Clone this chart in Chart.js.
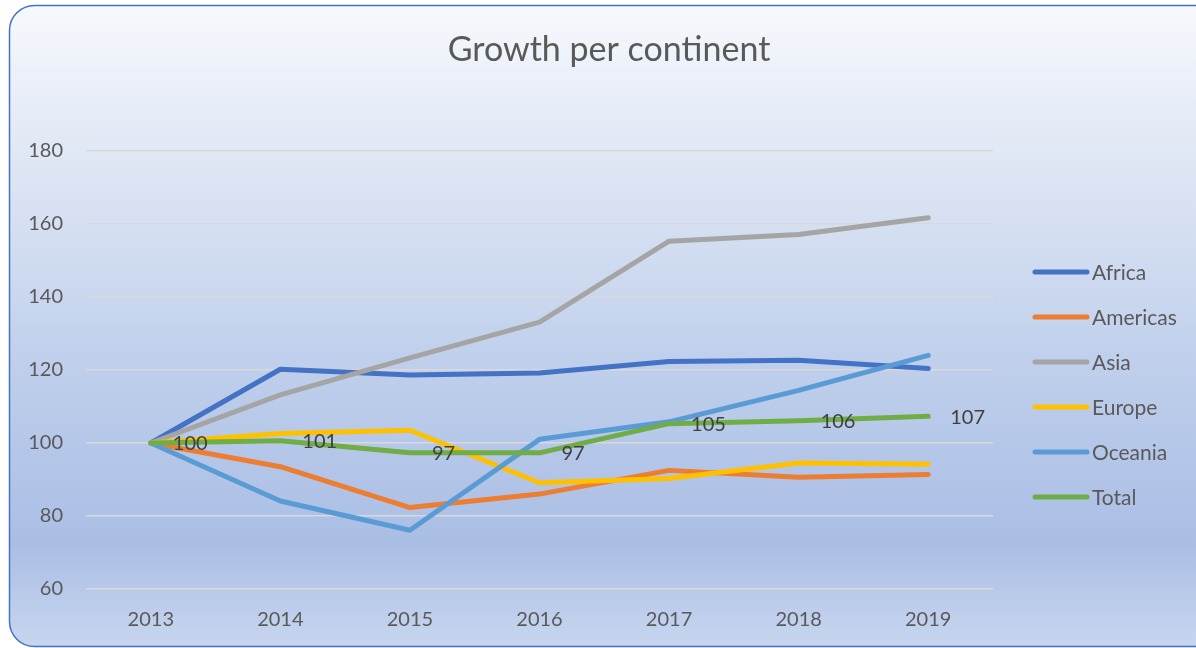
<!DOCTYPE html>
<html>
<head>
<meta charset="utf-8">
<script src="https://cdn.jsdelivr.net/npm/chart.js@4/dist/chart.umd.min.js"></script>
<style>
  html, body { margin: 0; padding: 0; background: #ffffff; }
  #wrap { width: 1196px; height: 648px; position: relative; }
</style>
</head>
<body>
<div id="wrap"><canvas id="myChart" width="1196" height="648"></canvas></div>
<script>
// chart data
let years = ['2013', '2014', '2015', '2016', '2017', '2018', '2019']
let seriesNames = ['Africa', 'Americas', 'Asia', 'Europe', 'Oceania', 'Total']
let africa = [100, 120.2, 118.6, 119.2, 122.3, 122.7, 120.4]
let americas = [100, 93.5, 82.3, 86.0, 92.5, 90.6, 91.4]
let asia = [100, 113.2, 123.3, 133.1, 155.3, 157.1, 161.7]
let europe = [100, 102.6, 103.5, 89.1, 90.3, 94.5, 94.2]
let oceania = [100, 84.1, 76.1, 101.0, 105.8, 114.4, 124.0]
let total = [100, 100.6, 97.3, 97.3, 105.3, 106.1, 107.3]
let totalLabels = ['100', '101', '97', '97', '105', '106', '107']
let yTicks = [60, 80, 100, 120, 140, 160, 180]
let chartTitle = 'Growth per continent'

let seriesValues = [africa, americas, asia, europe, oceania, total]
let seriesColors = ['#4472C4', '#ED7D31', '#A5A5A5', '#FFC000', '#5B9BD5', '#70AD47']

let fontName = 'Lato, Carlito, "Open Sans", sans-serif'

//background with rounded border
const backgroundPlugin = {
    id: 'panelBackground',
    beforeDraw(chart) {
        const c = chart.ctx
        const h = chart.height
        c.save()
        let grad = c.createLinearGradient(0, 0, 0, h)
        grad.addColorStop(0, '#F7F9FD')
        grad.addColorStop(0.3, '#DAE3F3')
        grad.addColorStop(0.55, '#C0D0EC')
        grad.addColorStop(0.84, '#AABEE5')
        grad.addColorStop(1, '#C8D6EF')
        c.beginPath()
        c.roundRect(9.5, 5.5, 1220, h - 7, 25)
        c.fillStyle = grad
        c.fill()
        c.lineWidth = 1.5
        c.strokeStyle = '#4472C4'
        c.stroke()
        c.restore()
    }
}

//title centred on the whole panel
const panelTitlePlugin = {
    id: 'panelTitle',
    afterDraw(chart) {
        const c = chart.ctx
        c.save()
        c.font = '34px ' + fontName
        c.fillStyle = '#595959'
        c.textAlign = 'center'
        c.textBaseline = 'middle'
        c.fillText(chartTitle, 609, 50)
        c.restore()
    }
}

//labels on the Total line, to the right of each point
const totalLabelPlugin = {
    id: 'totalLabels',
    afterDatasetsDraw(chart) {
        const c = chart.ctx
        const meta = chart.getDatasetMeta(seriesNames.length - 1)
        c.save()
        c.font = '20px ' + fontName
        c.fillStyle = '#404040'
        c.textAlign = 'left'
        c.textBaseline = 'middle'
        meta.data.forEach(function (pt, i) {
            c.fillText(totalLabels[i], pt.x + 22, pt.y + 1)
        })
        c.restore()
    }
}

//legend on the right
const sideLegendPlugin = {
    id: 'sideLegend',
    afterDraw(chart) {
        const c = chart.ctx
        c.save()
        c.font = '21px ' + fontName
        c.textAlign = 'left'
        c.textBaseline = 'middle'
        for (let i = 0; i < seriesNames.length; i++) {
            let y = 272 + i * 45
            c.beginPath()
            c.moveTo(1035, y)
            c.lineTo(1087, y)
            c.lineWidth = 5
            c.lineCap = 'round'
            c.strokeStyle = chart.data.datasets[i].borderColor
            c.stroke()
            c.fillStyle = '#595959'
            c.fillText(chart.data.datasets[i].label, 1092, y + 1)
        }
        c.restore()
    }
}

let datasets = []
for (let i = 0; i < seriesNames.length; i++) {
    datasets.push({
        label: seriesNames[i],
        data: seriesValues[i],
        borderColor: seriesColors[i],
        backgroundColor: seriesColors[i],
        borderWidth: 5,
        borderCapStyle: 'round',
        borderJoinStyle: 'round',
        pointRadius: 0,
        tension: 0,
        order: seriesNames.length - i
    })
}

var ctx = document.getElementById('myChart').getContext('2d');
var mychart = new Chart(ctx, {
    type: 'line',
    data: {
        labels: years,
        datasets: datasets
    },
    plugins: [backgroundPlugin, totalLabelPlugin, sideLegendPlugin, panelTitlePlugin],
    options: {
        responsive: false,
        animation: false,
        layout: {
            padding: { left: 0, right: 203, top: 151, bottom: 0 }
        },
        plugins: {
            legend: { display: false },
            tooltip: { enabled: false },
            title: { display: false }
        },
        scales: {
            x: {
                offset: true,
                grid: { display: false, drawTicks: false },
                border: { display: false },
                ticks: {
                    color: '#595959',
                    font: { family: fontName, size: 20 },
                    padding: 19,
                    maxRotation: 0
                },
                afterFit(scale) { scale.height = 59 }
            },
            y: {
                min: 60,
                max: 180,
                afterBuildTicks(scale) {
                    scale.ticks = yTicks.map(v => ({ value: v }))
                },
                grid: { color: '#D9D9D9', lineWidth: 1.5, drawTicks: false },
                border: { display: false },
                ticks: {
                    color: '#595959',
                    font: { family: fontName, size: 20 },
                    padding: 23
                },
                afterFit(scale) { scale.width = 86 }
            }
        }
    }
});
</script>
</body>
</html>
